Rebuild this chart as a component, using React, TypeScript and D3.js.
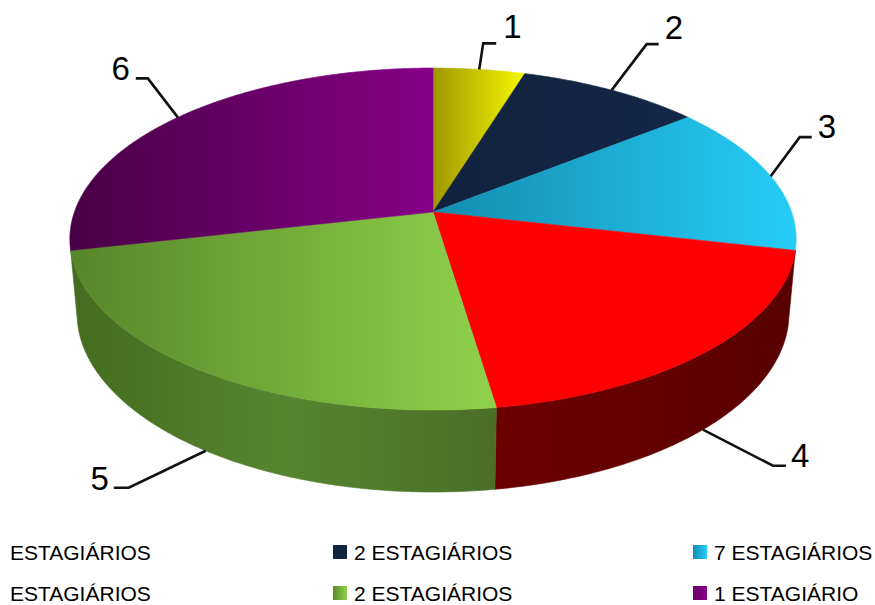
import React from "react";
import * as d3 from "d3";

// ---------- data ----------
const values = [1, 2, 3, 4, 5, 6];
const sliceLabels = ["1", "2", "3", "4", "5", "6"];
const legendLabels = [
  "ESTAGIÁRIOS",
  "2 ESTAGIÁRIOS",
  "7 ESTAGIÁRIOS",
  "ESTAGIÁRIOS",
  "2 ESTAGIÁRIOS",
  "1 ESTAGIÁRIO",
];

// ---------- styles ----------
const topColors = [
  ["#9e9800", "#f7f700"],
  ["#10223d", "#132847"],
  ["#148cb0", "#25cdf6"],
  ["#ff0000", "#ff0000"],
  ["#578629", "#8fd24a"],
  ["#480046", "#870087"],
];
const wallColors = [
  ["#8a8400", "#8a8400", "#8a8400"],
  ["#0b1830", "#0b1830", "#0b1830"],
  ["#0f6f8e", "#0f6f8e", "#0f6f8e"],
  ["#6c0000", "#640000", "#580000"],
  ["#456c20", "#568530", "#4b6e27"],
  ["#3e003c", "#3e003c", "#3e003c"],
];
const legendMarker = [
  ["#b0aa00", "#f0f000"],
  ["#10223d", "#10223d"],
  ["#138ab0", "#25cdf6"],
  ["#cc0000", "#ff0000"],
  ["#5a8a2c", "#8fd24a"],
  ["#6a006a", "#870087"],
];
// leader-line layout: elbow offset from anchor, horizontal run, text offset from run end
const labelLayout = [
  { ex: 4, ey: -26, run: 13, tx: 7, ty: -5, anchor: "start" },
  { ex: 35, ey: -46, run: 12, tx: 6, ty: -5, anchor: "start" },
  { ex: 29, ey: -39, run: 12, tx: 6, ty: 1, anchor: "start" },
  { ex: 70, ey: 36, run: 13, tx: 5, ty: 1, anchor: "start" },
  { ex: -77, ey: 37, run: -15, tx: -5, ty: 2, anchor: "end" },
  { ex: -30, ey: -39, run: -12, tx: -6, ty: 2, anchor: "end" },
];

// ---------- 3D projection ----------
const OX = 433;
const OY = 212;
const F = 2008;
const DIST = 5.6;
const PHI = Math.asin(0.465);
const SIN = Math.sin(PHI);
const COS = Math.cos(PHI);
const H = 0.2346;

function proj(theta: number, level: number): [number, number] {
  const X = Math.sin(theta);
  const Z = Math.cos(theta);
  const Y = level ? -H : 0;
  const yc = Y * COS + Z * SIN;
  const zc = Z * COS - Y * SIN + DIST;
  return [OX + (F * X) / zc, OY - (F * yc) / zc];
}

function arcPts(a0: number, a1: number, level: number) {
  const n = Math.max(2, Math.ceil((a1 - a0) / (Math.PI / 360)));
  const pts: [number, number][] = [];
  for (let i = 0; i <= n; i++) pts.push(proj(a0 + ((a1 - a0) * i) / n, level));
  return pts;
}

const line = d3.line();

const wallStart = Math.acos(-1 / (DIST * COS));
const wallEnd = 2 * Math.PI - wallStart;

export default function App() {
  const arcs = d3
    .pie<number>()
    .sort(null)
    .startAngle(0)
    .endAngle(2 * Math.PI)(values);

  const legendX = [10, 354, 714];
  const legendY = [560, 601];

  return (
    <svg
      width={875}
      height={605}
      style={{ position: "absolute", left: 0, top: 0, background: "#fff" }}
      fontFamily="'Liberation Sans', Arial, sans-serif"
    >
      <defs>
        {topColors.map((c, i) => (
          <linearGradient key={"t" + i} id={"top" + i} x1="0" x2="1" y1="0" y2="0">
            <stop offset="0" stopColor={c[0]} />
            <stop offset="1" stopColor={c[1]} />
          </linearGradient>
        ))}
        {wallColors.map((c, i) => (
          <linearGradient key={"w" + i} id={"wall" + i} x1="0" x2="1" y1="0" y2="0">
            <stop offset="0" stopColor={c[0]} />
            <stop offset="0.5" stopColor={c[1]} />
            <stop offset="1" stopColor={c[2]} />
          </linearGradient>
        ))}
        {legendMarker.map((c, i) => (
          <linearGradient key={"l" + i} id={"leg" + i} x1="0" x2="1" y1="0" y2="0">
            <stop offset="0" stopColor={c[0]} />
            <stop offset="1" stopColor={c[1]} />
          </linearGradient>
        ))}
      </defs>

      {/* walls */}
      {arcs.map((a, i) => {
        const s = Math.max(a.startAngle, wallStart);
        const e = Math.min(a.endAngle, wallEnd);
        if (e - s < 0.03) return null;
        const top = arcPts(s, e, 0);
        const bot = arcPts(s, e, 1).reverse();
        return (
          <path
            key={"wall" + i}
            d={line([...top, ...bot])! + "Z"}
            fill={`url(#wall${i})`}
            stroke={`url(#wall${i})`}
            strokeWidth={0.6}
          />
        );
      })}

      {/* top faces */}
      {arcs.map((a, i) => {
        const pts: [number, number][] = [[OX, OY], ...arcPts(a.startAngle, a.endAngle, 0)];
        return (
          <path
            key={"top" + i}
            d={line(pts)! + "Z"}
            fill={`url(#top${i})`}
            stroke={`url(#top${i})`}
            strokeWidth={0.6}
          />
        );
      })}

      {/* leader lines + labels */}
      {arcs.map((a, i) => {
        const mid = (a.startAngle + a.endAngle) / 2;
        const front = mid > wallStart && mid < wallEnd;
        const [ax, ay] = proj(mid, front ? 1 : 0);
        const L = labelLayout[i];
        const ex = ax + L.ex;
        const ey = ay + L.ey;
        const rx = ex + L.run;
        return (
          <g key={"lab" + i}>
            <path
              d={line([
                [ax, ay],
                [ex, ey],
                [rx, ey],
              ])!}
              fill="none"
              stroke="#111"
              strokeWidth={2.6}
            />
            <text
              x={rx + L.tx}
              y={ey + L.ty}
              fontSize={33}
              textAnchor={L.anchor}
              fill="#000"
            >
              {sliceLabels[i]}
            </text>
          </g>
        );
      })}

      {/* legend */}
      {legendLabels.map((lab, i) => {
        const col = i % 3;
        const row = Math.floor(i / 3);
        const tx = legendX[col];
        const ty = legendY[row];
        const mx = tx - 21;
        return (
          <g key={"leg" + i}>
            {mx >= 0 && (
              <rect x={mx} y={ty - 15} width={14} height={14} fill={`url(#leg${i})`} />
            )}
            <text x={tx} y={ty} fontSize={21} fill="#000">
              {lab}
            </text>
          </g>
        );
      })}
    </svg>
  );
}
